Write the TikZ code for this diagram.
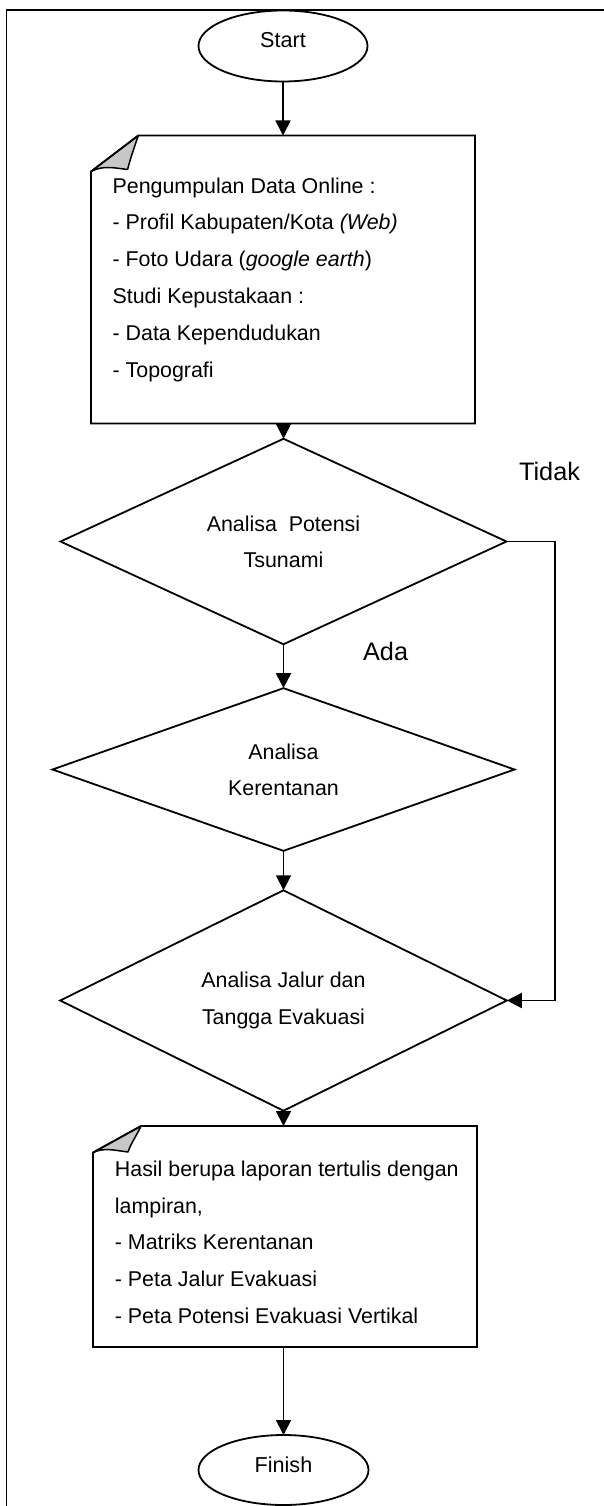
\documentclass[tikz,border=0pt]{standalone}
\usepackage{fontspec}
\setmainfont{Liberation Sans}
\usetikzlibrary{shapes.geometric,arrows.meta,calc}
\begin{document}
\begin{tikzpicture}[x=1pt,y=-1pt,
  line width=1.8pt,
  lbl/.style={font=\fontsize{25.3}{30}\selectfont, inner sep=0pt, anchor=base},
  tline/.style={anchor=base west, font=\fontsize{21.4}{25}\selectfont, inner sep=0pt},
  ttext/.style={anchor=base, font=\fontsize{21.6}{25}\selectfont, inner sep=0pt},
  term/.style={draw, ellipse, minimum width=169pt, minimum height=71pt, inner sep=0pt, outer sep=0pt},
  decide/.style={draw, diamond, inner sep=0pt, outer sep=0pt, align=center, font=\fontsize{21.4}{36.3}\selectfont},
  cardbox/.style={draw=none, rectangle, inner sep=0pt, outer sep=0pt},
  arr/.style={-{Triangle[width=15pt,length=15pt]}, line width=1.8pt},
  fold/.style={fill=black!22, draw, line width=1.5pt, line join=round},
  frame/.style={draw, line width=1.6pt}
]
\useasboundingbox (0,0) rectangle (604,1506);
\draw[frame] (604,10) -- (6.5,10) -- (6.5,1506);

% Start
\node[term] (start) at (283,46) {};
\node[ttext] (starttxt) at (283,48) {Start};

% Card 1
\node[cardbox, minimum width=384pt, minimum height=288pt] (card1) at (283,279.5) {};
\draw[fold] ($(card1.north west)+(47.3,0)$) -- ($(card1.north west)+(0,36)$)
  .. controls +(12,-6) and +(-16,-2) .. ($(card1.north west)+(36.6,34)$)
  .. controls +(3,-12) and +(-4,12) .. ($(card1.north west)+(47.3,0)$);
\draw ($(card1.north west)+(47.3,0)$) -- (card1.north east) -- (card1.south east)
  -- (card1.south west) -- ($(card1.north west)+(0,36)$) -- cycle;
\node[tline] (c1a) at (111.7,194) {Pengumpulan Data Online :};
\node[tline] (c1b) at (111.7,230) {- Profil Kabupaten/Kota \textit{(Web)}};
\node[tline] (c1c) at (111.7,266.7) {- Foto Udara (\textit{google earth})};
\node[tline] (c1d) at (111.7,303) {Studi Kepustakaan :};
\node[tline] (c1e) at (111.7,340.7) {- Data Kependudukan};
\node[tline] (c1f) at (111.7,377) {- Topografi};

% Decisions
\node[decide, minimum width=446pt, minimum height=169pt] (d1) at (283.5,541.5) {Analisa\ \ Potensi\\Tsunami};
\node[decide, minimum width=462pt, minimum height=161pt] (d2) at (283.5,769.5) {Analisa\\Kerentanan};
\node[decide, minimum width=446.6pt, minimum height=175pt] (d3) at (283.5,1000.5) {Analisa Jalur dan\\Tangga Evakuasi};

% Card 2
\node[cardbox, minimum width=384pt, minimum height=221pt] (card2) at (285,1236.5) {};
\draw[fold] ($(card2.north west)+(48,0)$) -- ($(card2.north west)+(0,26.5)$)
  .. controls +(11,-5) and +(-15,-2) .. ($(card2.north west)+(35,26)$)
  .. controls +(3,-9) and +(-4,9) .. ($(card2.north west)+(48,0)$);
\draw ($(card2.north west)+(48,0)$) -- (card2.north east) -- (card2.south east)
  -- (card2.south west) -- ($(card2.north west)+(0,26.5)$) -- cycle;
\node[tline] (c2a) at (114,1176.7) {Hasil berupa laporan tertulis dengan};
\node[tline] (c2b) at (114,1213) {lampiran,};
\node[tline] (c2c) at (114,1249) {- Matriks Kerentanan};
\node[tline] (c2d) at (114,1286) {- Peta Jalur Evakuasi};
\node[tline] (c2e) at (114,1323) {- Peta Potensi Evakuasi Vertikal};

% Finish
\node[term, minimum width=170pt, minimum height=70pt] (finish) at (283.5,1470) {};
\node[ttext] (finishtxt) at (283.5,1472.7) {Finish};

% Labels
\node[lbl] (tidak) at (549.5,480) {Tidak};
\node[lbl] (ada) at (385.6,660) {Ada};

% Connectors
\draw[arr] (start.south) -- (start.south |- card1.north);
\draw[arr] (d1.north |- card1.south) -- (d1.north);
\draw[arr] (d1.south) -- (d2.north);
\draw[arr] (d2.south) -- (d3.north);
\draw[arr] (d3.south) -- (d3.south |- card2.north);
\draw[arr] (finish.north |- card2.south) -- (finish.north);
\coordinate (tr) at (555,541.5);
\draw[arr] (d1.east) -- (tr) |- (d3.east);
\end{tikzpicture}
\end{document}
